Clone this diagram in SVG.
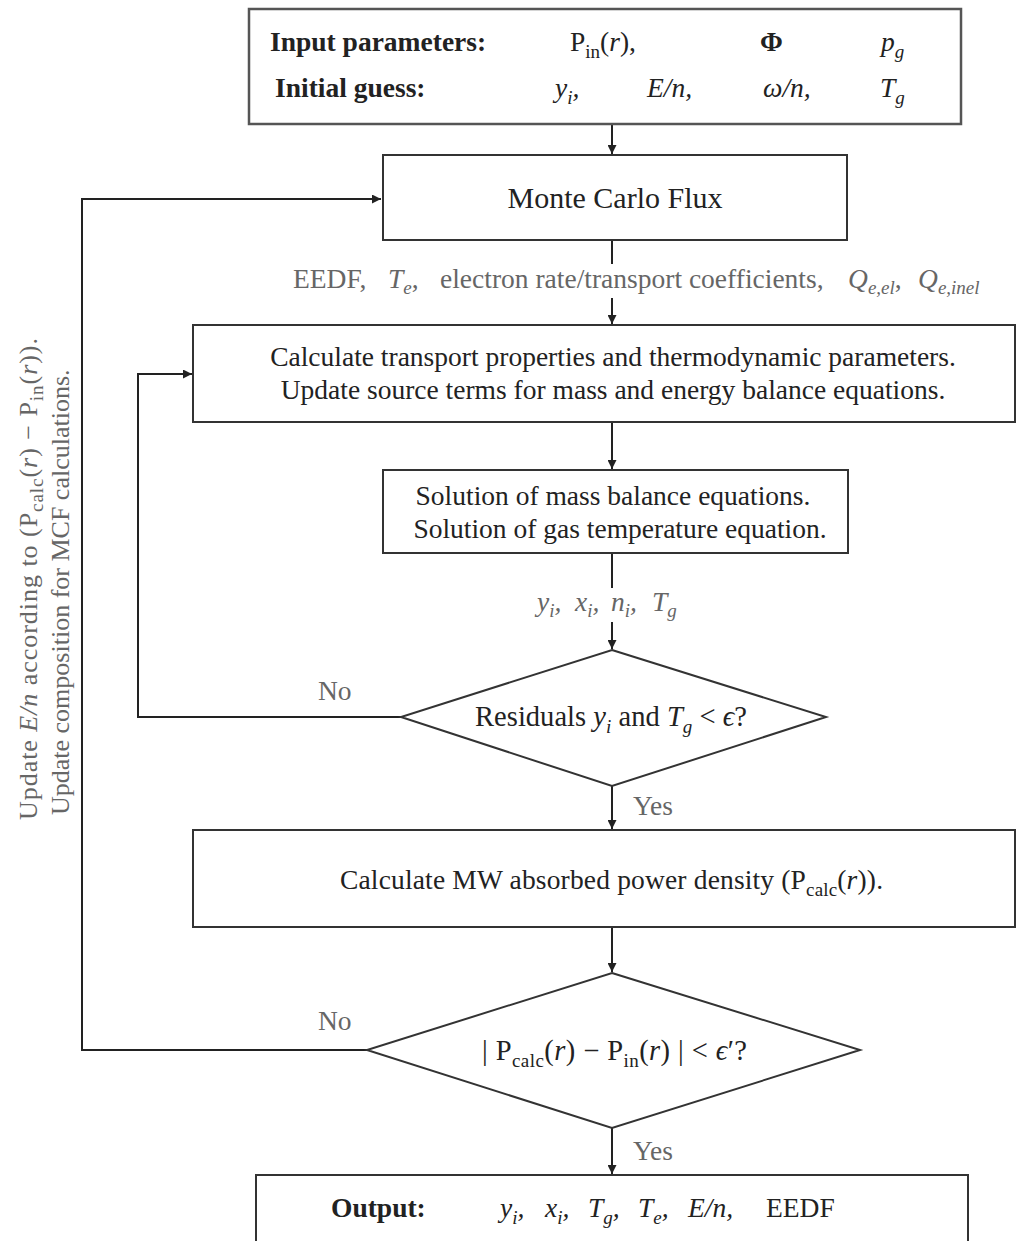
<svg xmlns="http://www.w3.org/2000/svg" width="1017" height="1241" viewBox="0 0 1017 1241">
<style>
.t{font-family:"Liberation Serif","Times New Roman",serif;font-size:27.5px;fill:#222}
.i{font-style:italic}
.b{font-weight:bold}
.g{fill:#666}
.s{font-size:19px}
.box{fill:#fff;stroke:#333;stroke-width:2}
.conn{fill:none;stroke:#222;stroke-width:2}
</style>
<defs>
<marker id="arr" viewBox="0 0 10 10" refX="10" refY="5" markerWidth="11" markerHeight="9" markerUnits="userSpaceOnUse" orient="auto">
<path d="M0,0 L10,5 L0,10 z" fill="#222"/>
</marker>
</defs>
<g id="connectors">
<line class="conn" x1="612" y1="124" x2="612" y2="154" marker-end="url(#arr)"/>
<line class="conn" x1="612" y1="240" x2="612" y2="264"/>
<line class="conn" x1="612" y1="298" x2="612" y2="324" marker-end="url(#arr)"/>
<line class="conn" x1="612" y1="422" x2="612" y2="469" marker-end="url(#arr)"/>
<line class="conn" x1="612" y1="553" x2="612" y2="588"/>
<line class="conn" x1="612" y1="622" x2="612" y2="649" marker-end="url(#arr)"/>
<line class="conn" x1="612" y1="786" x2="612" y2="829" marker-end="url(#arr)"/>
<line class="conn" x1="612" y1="927" x2="612" y2="972" marker-end="url(#arr)"/>
<line class="conn" x1="612" y1="1128" x2="612" y2="1174" marker-end="url(#arr)"/>
<polyline class="conn" points="402,717 138,717 138,374 192,374" marker-end="url(#arr)"/>
<polyline class="conn" points="367,1050 82,1050 82,199 381,199" marker-end="url(#arr)"/>
<text class="t g" y="288"><tspan x="293">EEDF,</tspan><tspan x="388" class="i">T</tspan><tspan class="s i" dy="6">e</tspan><tspan dy="-6">,</tspan><tspan x="440">electron rate/transport coefficients,</tspan><tspan x="848" class="i">Q</tspan><tspan class="s i" dy="6">e,el</tspan><tspan dy="-6">,</tspan><tspan x="918" class="i">Q</tspan><tspan class="s i" dy="6">e,inel</tspan></text>
<text class="t g i" y="611"><tspan x="537">y</tspan><tspan class="s" dy="6">i</tspan><tspan dy="-6">,</tspan><tspan x="575">x</tspan><tspan class="s" dy="6">i</tspan><tspan dy="-6">,</tspan><tspan x="611">n</tspan><tspan class="s" dy="6">i</tspan><tspan dy="-6">,</tspan><tspan x="652">T</tspan><tspan class="s" dy="6">g</tspan></text>
<text class="t g" x="318" y="700">No</text>
<text class="t g" x="633" y="815">Yes</text>
<text class="t g" x="318" y="1030">No</text>
<text class="t g" x="633" y="1160">Yes</text>
<text class="t g" transform="translate(37,820) rotate(-90)" style="font-size:26px" textLength="482" lengthAdjust="spacing">Update <tspan class="i">E/n</tspan> according to (P<tspan class="s" dy="6">calc</tspan><tspan dy="-6">(</tspan><tspan class="i">r</tspan>) − P<tspan class="s" dy="6">in</tspan><tspan dy="-6">(</tspan><tspan class="i">r</tspan>)).</text>
<text class="t g" transform="translate(69,815) rotate(-90)" style="font-size:26px">Update composition for MCF calculations.</text>
</g>
<g id="input">
<rect class="box" x="249" y="9" width="712" height="115" style="stroke:#555;stroke-width:2.5"/>
<text class="t b" x="270" y="51">Input parameters:</text>
<text class="t" x="570" y="51">P<tspan class="s" dy="7">in</tspan><tspan dy="-7">(</tspan><tspan class="i">r</tspan>),</text>
<text class="t b" x="760" y="51">Φ</text>
<text class="t i" x="881" y="51">p<tspan class="s" dy="7">g</tspan></text>
<text class="t b" x="275" y="97">Initial guess:</text>
<text class="t i" x="555" y="97">y<tspan class="s" dy="7">i</tspan><tspan dy="-7">,</tspan></text>
<text class="t i" x="647" y="97">E/n,</text>
<text class="t i" x="763" y="97">ω/n,</text>
<text class="t i" x="880" y="97">T<tspan class="s" dy="7">g</tspan></text>
</g>
<g id="mcf">
<rect class="box" x="383" y="155" width="464" height="85"/>
<text class="t" x="615" y="208" text-anchor="middle" style="font-size:30px">Monte Carlo Flux</text>
</g>
<g id="transport">
<rect class="box" x="193" y="325" width="822" height="97"/>
<text class="t" x="613" y="366" text-anchor="middle">Calculate transport properties and thermodynamic parameters.</text>
<text class="t" x="613" y="399" text-anchor="middle">Update source terms for mass and energy balance equations.</text>
</g>
<g id="solution">
<rect class="box" x="383" y="470" width="465" height="83"/>
<text class="t" x="613" y="505" text-anchor="middle">Solution of mass balance equations.</text>
<text class="t" x="620" y="538" text-anchor="middle">Solution of gas temperature equation.</text>
</g>
<g id="residuals">
<polygon class="box" points="612,650 826,717 612,786 401,717"/>
<text class="t" x="475" y="726" style="font-size:28.5px" textLength="272" lengthAdjust="spacing">Residuals <tspan class="i">y</tspan><tspan class="s i" dy="7">i</tspan><tspan dy="-7"> and </tspan><tspan class="i">T</tspan><tspan class="s i" dy="7">g</tspan><tspan dy="-7"> &lt; </tspan><tspan class="i">ϵ</tspan>?</text>
</g>
<g id="power">
<rect class="box" x="193" y="830" width="822" height="97"/>
<text class="t" x="340" y="889" textLength="543" lengthAdjust="spacing">Calculate MW absorbed power density (P<tspan class="s" dy="7">calc</tspan><tspan dy="-7">(</tspan><tspan class="i">r</tspan>)).</text>
</g>
<g id="convergence">
<polygon class="box" points="612,973 860,1050 612,1128 367,1050"/>
<text class="t" x="482" y="1060" style="font-size:28.5px" textLength="265" lengthAdjust="spacing">| P<tspan class="s" dy="7">calc</tspan><tspan dy="-7">(</tspan><tspan class="i">r</tspan>) − P<tspan class="s" dy="7">in</tspan><tspan dy="-7">(</tspan><tspan class="i">r</tspan>) | &lt; <tspan class="i">ϵ</tspan>′?</text>
</g>
<g id="output">
<rect class="box" x="256" y="1175" width="712" height="80"/>
<text class="t b" x="331" y="1217">Output:</text>
<text class="t i" y="1217"><tspan x="500">y</tspan><tspan class="s" dy="7">i</tspan><tspan dy="-7">,</tspan><tspan x="545">x</tspan><tspan class="s" dy="7">i</tspan><tspan dy="-7">,</tspan><tspan x="588">T</tspan><tspan class="s" dy="7">g</tspan><tspan dy="-7">,</tspan><tspan x="638">T</tspan><tspan class="s" dy="7">e</tspan><tspan dy="-7">,</tspan><tspan x="688">E/n,</tspan><tspan x="766" style="font-style:normal">EEDF</tspan></text>
</g>
</svg>
